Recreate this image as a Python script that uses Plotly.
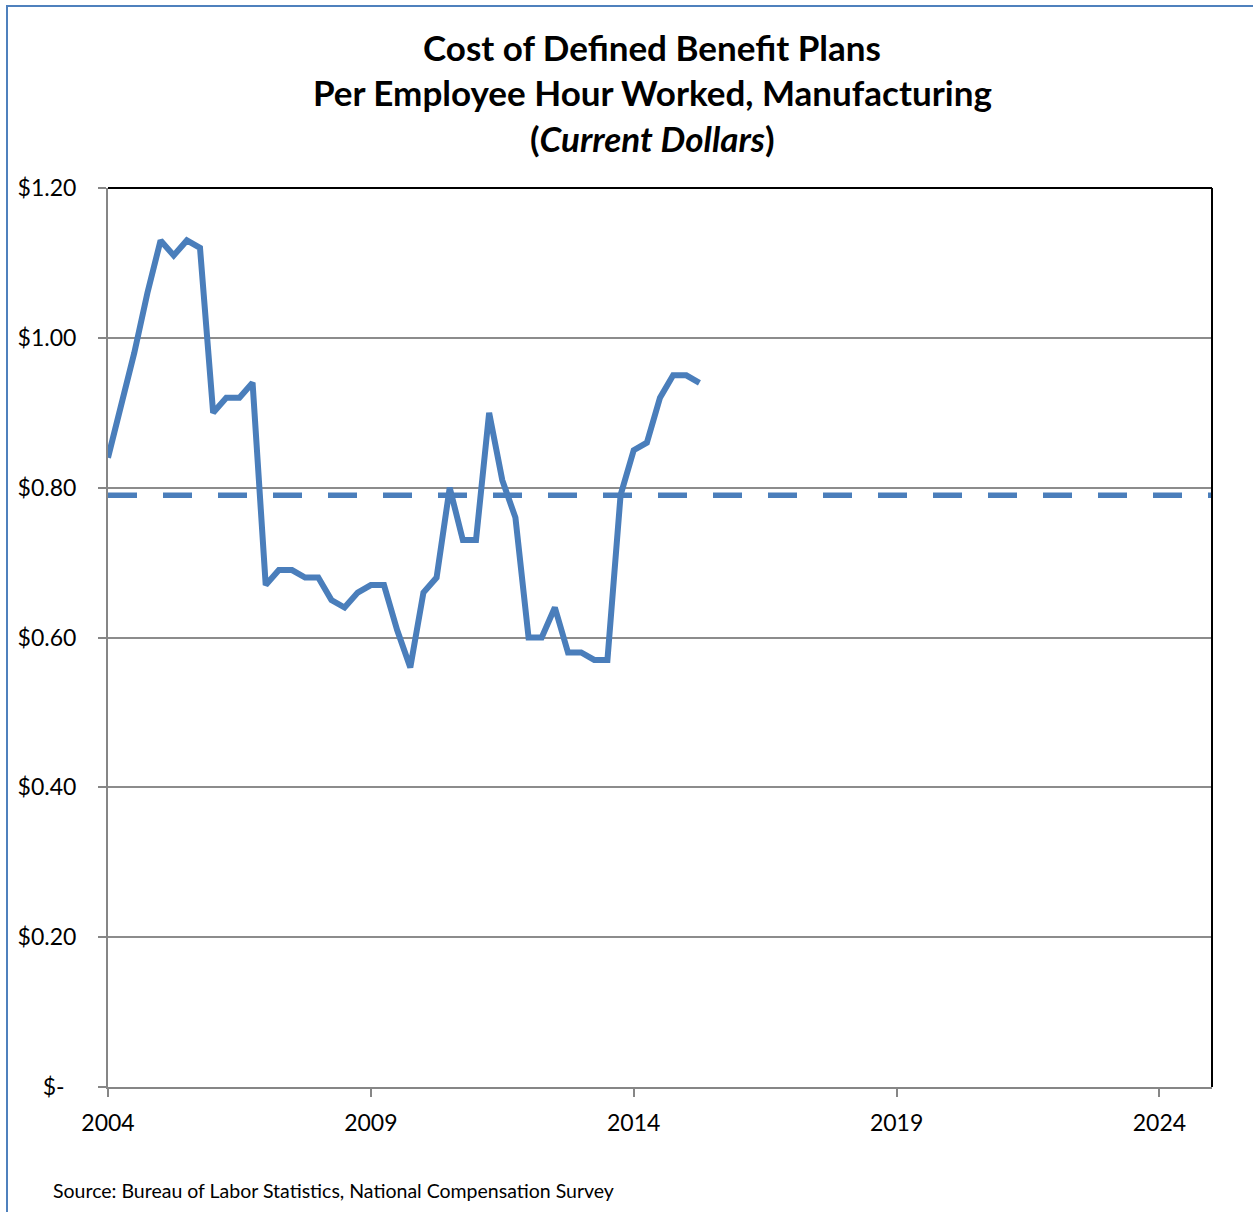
import plotly.graph_objects as go

# Quarterly cost of defined benefit plans per employee hour worked (current dollars)
start_year = 2004
quarters = list(range(46))
cost = [0.84, 0.91, 0.98, 1.06, 1.13, 1.11, 1.13, 1.12,
        0.90, 0.92, 0.92, 0.94, 0.67, 0.69, 0.69, 0.68,
        0.68, 0.65, 0.64, 0.66, 0.67, 0.67, 0.61, 0.56,
        0.66, 0.68, 0.80, 0.73, 0.73, 0.90, 0.81, 0.76,
        0.60, 0.60, 0.64, 0.58, 0.58, 0.57, 0.57, 0.79,
        0.85, 0.86, 0.92, 0.95, 0.95, 0.94]
average_cost = 0.79
avg_span = [2004, 2025]

x_ticks = [2004, 2009, 2014, 2019, 2024]
y_ticks = [0, 0.2, 0.4, 0.6, 0.8, 1.0, 1.2]
y_tick_text = ["$-&nbsp;&nbsp;", "$0.20", "$0.40", "$0.60", "$0.80", "$1.00", "$1.20"]

title_lines = ["<b>Cost of Defined Benefit Plans</b>",
               "<b>Per Employee Hour Worked, Manufacturing</b>",
               "<b>(<i>Current Dollars</i>)</b>"]
source_text = "Source: Bureau of Labor Statistics, National Compensation Survey"

LINE = "#4A7EBB"
FONT = "Lato, 'Open Sans', sans-serif"

years = [start_year + q / 4 for q in quarters]

fig = go.Figure()
fig.add_trace(go.Scatter(
    x=avg_span, y=[average_cost] * len(avg_span), mode="lines",
    line=dict(color=LINE, width=5.5, dash="29px,26px"),
    hoverinfo="skip", showlegend=False))
fig.add_trace(go.Scatter(
    x=years, y=cost, mode="lines",
    line=dict(color=LINE, width=6),
    showlegend=False))

W, H = 1253, 1212
L, R, T, B = 108, 1212, 188, 1087
pw, ph = R - L, B - T


def px(xp):
    return (xp - L) / pw


def py(yp):
    return (B - yp) / ph


# Plot-area border (top and right) and outer frame (left and top)
shapes = [
    dict(type="line", xref="paper", yref="paper", x0=0, x1=1, y0=1, y1=1,
         line=dict(color="black", width=2)),
    dict(type="line", xref="paper", yref="paper", x0=1, x1=1, y0=0, y1=1,
         line=dict(color="black", width=2)),
    dict(type="line", xref="paper", yref="paper", x0=px(7), x1=px(7),
         y0=py(1212), y1=py(5), line=dict(color="#4F81BD", width=2)),
    dict(type="line", xref="paper", yref="paper", x0=px(6), x1=px(1253),
         y0=py(6), y1=py(6), line=dict(color="#4F81BD", width=2)),
]

annotations = []
for line, yc in zip(title_lines, [47, 92, 138]):
    annotations.append(dict(
        text=line, xref="paper", yref="paper", x=px(652), y=py(yc),
        xanchor="center", yanchor="middle", showarrow=False,
        font=dict(family=FONT, size=35, color="black")))
annotations.append(dict(
    text=source_text, xref="paper", yref="paper", x=px(51), y=py(1190),
    xanchor="left", yanchor="middle", showarrow=False,
    font=dict(family=FONT, size=19.5, color="black")))

fig.update_layout(
    width=W, height=H,
    margin=dict(l=L, r=W - R, t=T, b=H - B, pad=0),
    paper_bgcolor="white", plot_bgcolor="white",
    font=dict(family=FONT, size=22, color="black"),
    shapes=shapes, annotations=annotations,
    xaxis=dict(range=[2004, 2025], tickvals=x_ticks, ticktext=[str(t) for t in x_ticks],
               showgrid=False, zeroline=False, showline=True, linecolor="#868686",
               linewidth=2, ticks="outside", ticklen=8, tickcolor="#868686",
               tickwidth=2, tickfont=dict(size=23), ticklabelstandoff=6),
    yaxis=dict(range=[0, 1.2], tickvals=y_ticks, ticktext=y_tick_text,
               showgrid=True, gridcolor="#8C8C8C", gridwidth=1.5, zeroline=False,
               showline=True, linecolor="#868686", linewidth=2, ticks="outside",
               ticklen=8, tickcolor="#868686", tickwidth=2,
               tickfont=dict(size=23), ticklabelstandoff=17),
)

fig.write_html("out.html")
